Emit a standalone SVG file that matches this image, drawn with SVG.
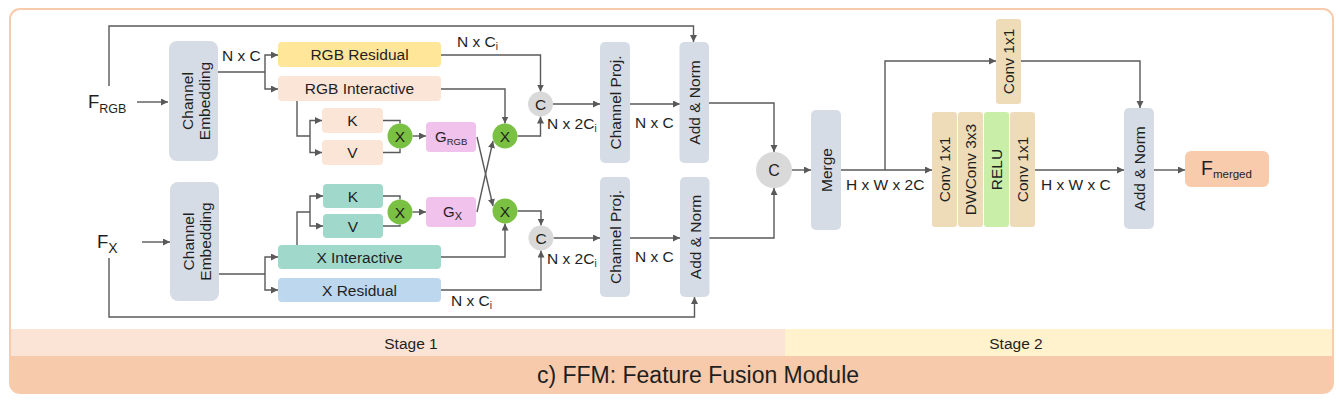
<svg xmlns="http://www.w3.org/2000/svg" width="1339" height="403" viewBox="0 0 1339 403">
<defs>
<marker id="ah" markerUnits="userSpaceOnUse" markerWidth="8" markerHeight="8" refX="7" refY="3.5" orient="auto">
<path d="M0,0 L7,3.5 L0,7 z" fill="#595959"/>
</marker>
<clipPath id="fc"><rect x="10" y="9" width="1323" height="384" rx="10"/></clipPath>
<style>
text{font-family:"Liberation Sans",Arial,sans-serif;fill:#1f1f1f;font-size:15.5px}
.m{text-anchor:middle}
.c{fill:none;stroke:#595959;stroke-width:1.4}
.a{marker-end:url(#ah)}
.gray{fill:#D6DCE5}
.peach{fill:#FBE5D6}
.teal{fill:#A0D9CB}
.tan{fill:#EEDCB9}
.pink{fill:#F0C2EC}
.gc{fill:#7AC143}
.cc{fill:#D9D9D9}
</style>
</defs>

<g id="frame">
<rect x="10" y="9" width="1323" height="384" rx="10" fill="#ffffff"/>
<g clip-path="url(#fc)">
<rect x="10" y="329" width="775" height="28" fill="#FBE4D5"/>
<rect x="785" y="329" width="548" height="28" fill="#FFF2CC"/>
<rect x="10" y="356" width="1323" height="37" fill="#F7CAAC"/>
</g>
<rect x="10" y="9" width="1323" height="384" rx="10" fill="none" stroke="#F8CBAD" stroke-width="2"/>
<text x="411" y="349" class="m">Stage 1</text>
<text x="1016" y="349" class="m">Stage 2</text>
<text x="698" y="383" class="m" style="font-size:23px">c) FFM: Feature Fusion Module</text>
</g>

<g id="connectors">
<path class="c a" d="M137,102 H168"/>
<path class="c a" d="M109,86 V26 H693.5 V42"/>
<path class="c" d="M218,72 H265"/>
<path class="c a" d="M265,72 V55 H278"/>
<path class="c a" d="M265,72 V89 H278"/>
<path class="c" d="M297,101 V136 H310"/>
<path class="c a" d="M310,136 V120.5 H322"/>
<path class="c a" d="M310,136 V152.5 H322"/>
<path class="c" d="M383,120.5 H400 V123.5"/>
<path class="c" d="M383,152.5 H400 V148.5"/>
<path class="c a" d="M412.5,136 H426"/>
<path class="c a" d="M477,137 L493,206"/>
<path class="c a" d="M477,212 L493,141"/>
<path class="c a" d="M441,89 H505 V123.5"/>
<path class="c a" d="M441,55 H540.5 V91.5"/>
<path class="c a" d="M517.5,136 H540.5 V116.5"/>
<path class="c a" d="M553,104 H600"/>
<path class="c a" d="M630,104 H680"/>
<path class="c a" d="M709,103 H774 V152"/>
<path class="c a" d="M792,170 H811"/>
<path class="c a" d="M841,170 H932"/>
<path class="c a" d="M885,170 V61 H996"/>
<path class="c a" d="M1021,61 H1140 V108"/>
<path class="c a" d="M1035,170 H1124"/>
<path class="c a" d="M1154,170 H1185"/>

<path class="c a" d="M142,242 H170"/>
<path class="c a" d="M109,258 V317 H694.5 V297"/>
<path class="c" d="M219,274 H265"/>
<path class="c a" d="M265,274 V257 H278"/>
<path class="c a" d="M265,274 V290 H278"/>
<path class="c" d="M297,245 V212 H310"/>
<path class="c a" d="M310,212 V196 H323"/>
<path class="c a" d="M310,212 V226 H323"/>
<path class="c" d="M383,196 H400 V199.5"/>
<path class="c" d="M383,226 H400 V224.5"/>
<path class="c a" d="M412.5,212 H426"/>
<path class="c a" d="M441,257 H505 V223.5"/>
<path class="c a" d="M517.5,211 H541 V225.5"/>
<path class="c a" d="M441,290 H541 V250.5"/>
<path class="c a" d="M553.5,238 H600"/>
<path class="c a" d="M630,238 H680"/>
<path class="c a" d="M709,238 H774 V188"/>

<text x="222" y="61">N x C</text>
<text x="457" y="47">N x C<tspan font-size="10" dy="3">i</tspan></text>
<text x="547" y="129">N x 2C<tspan font-size="10" dy="3">i</tspan></text>
<text x="635" y="128">N x C</text>
<text x="547" y="264">N x 2C<tspan font-size="10" dy="3">i</tspan></text>
<text x="635" y="262">N x C</text>
<text x="451" y="306">N x C<tspan font-size="10" dy="3">i</tspan></text>
<text x="846" y="190">H x W x 2C</text>
<text x="1041" y="190">H x W x C</text>
</g>

<g id="f_rgb"><text x="88" y="108" style="font-size:18.5px">F<tspan font-size="12.5" dy="5">RGB</tspan></text></g>
<g id="f_x"><text x="97" y="248" style="font-size:18.5px">F<tspan font-size="14" dy="5">X</tspan></text></g>

<g id="embed1"><rect x="169" y="41" width="49" height="120" rx="8" class="gray"/>
<text transform="translate(193.5,101) rotate(-90)" class="m"><tspan x="0" y="-1">Channel</tspan><tspan x="0" y="16">Embedding</tspan></text></g>
<g id="embed2"><rect x="170" y="182" width="49" height="119" rx="8" class="gray"/>
<text transform="translate(194.5,241.5) rotate(-90)" class="m"><tspan x="0" y="-1">Channel</tspan><tspan x="0" y="16">Embedding</tspan></text></g>

<g id="rgb_res"><rect x="278" y="42" width="163" height="25" rx="4" fill="#FFE699"/><text x="359.5" y="60" class="m">RGB Residual</text></g>
<g id="rgb_int"><rect x="278" y="76" width="163" height="25" rx="4" class="peach"/><text x="359.5" y="94" class="m">RGB Interactive</text></g>
<g id="k1"><rect x="322" y="108" width="61" height="25" rx="4" class="peach"/><text x="352.5" y="126" class="m">K</text></g>
<g id="v1"><rect x="322" y="140" width="61" height="25" rx="4" class="peach"/><text x="352.5" y="158" class="m">V</text></g>
<g id="x1"><circle cx="400" cy="136" r="12.5" class="gc"/><text x="400" y="141.5" class="m">X</text></g>
<g id="g_rgb"><rect x="426" y="122" width="50" height="30" rx="4" class="pink"/><text x="435" y="142" style="font-size:15px">G<tspan font-size="9.5" dy="3">RGB</tspan></text></g>
<g id="x2"><circle cx="505" cy="136" r="12.5" class="gc"/><text x="505" y="141.5" class="m">X</text></g>
<g id="c1"><circle cx="540.5" cy="104" r="12.5" class="cc"/><text x="540.5" y="109.5" class="m">C</text></g>
<g id="proj1"><rect x="600" y="42" width="30" height="121" rx="5" class="gray"/><text transform="translate(615,102.5) rotate(-90)" x="0" y="5.5" class="m">Channel Proj.</text></g>
<g id="addnorm1"><rect x="679.5" y="42" width="29.5" height="121" rx="5" class="gray"/><text transform="translate(694.5,102.5) rotate(-90)" x="0" y="5.5" class="m">Add &amp; Norm</text></g>

<g id="x_int"><rect x="278" y="245" width="163" height="24" rx="4" class="teal"/><text x="359.5" y="262.5" class="m">X Interactive</text></g>
<g id="x_res"><rect x="278" y="278" width="163" height="24" rx="4" fill="#BDD7EE"/><text x="359.5" y="295.5" class="m">X Residual</text></g>
<g id="k2"><rect x="323" y="184" width="60" height="24" rx="4" class="teal"/><text x="353" y="201.5" class="m">K</text></g>
<g id="v2"><rect x="323" y="214" width="60" height="24" rx="4" class="teal"/><text x="353" y="231.5" class="m">V</text></g>
<g id="x3"><circle cx="400" cy="212" r="12.5" class="gc"/><text x="400" y="217.5" class="m">X</text></g>
<g id="g_x"><rect x="426" y="197" width="50" height="30" rx="4" class="pink"/><text x="443" y="217" style="font-size:15px">G<tspan font-size="11" dy="3">X</tspan></text></g>
<g id="x4"><circle cx="505" cy="211" r="12.5" class="gc"/><text x="505" y="216.5" class="m">X</text></g>
<g id="c2"><circle cx="541" cy="238" r="12.5" class="cc"/><text x="541" y="243.5" class="m">C</text></g>
<g id="proj2"><rect x="600" y="177" width="30" height="120" rx="5" class="gray"/><text transform="translate(615,237) rotate(-90)" x="0" y="5.5" class="m">Channel Proj.</text></g>
<g id="addnorm1b"><rect x="680" y="177" width="29.5" height="120" rx="5" class="gray"/><text transform="translate(695,237) rotate(-90)" x="0" y="5.5" class="m">Add &amp; Norm</text></g>

<g id="c_big"><circle cx="774" cy="170" r="18" class="cc"/><text x="774" y="175.5" class="m" style="font-size:16px">C</text></g>
<g id="merge"><rect x="811" y="110" width="30" height="120" rx="5" class="gray"/><text transform="translate(826,170) rotate(-90)" x="0" y="5.5" class="m">Merge</text></g>
<g id="conv_top"><rect x="996" y="19" width="25" height="85" rx="3" class="tan"/><text transform="translate(1008.5,61.5) rotate(-90)" x="0" y="5.5" class="m">Conv 1x1</text></g>
<g id="conv_a"><rect x="932" y="112" width="25" height="115" rx="3" class="tan"/><text transform="translate(944.5,169.5) rotate(-90)" x="0" y="5.5" class="m">Conv 1x1</text></g>
<g id="dwconv"><rect x="958" y="112" width="25" height="115" rx="3" class="tan"/><text transform="translate(970.5,169.5) rotate(-90)" x="0" y="5.5" class="m">DWConv 3x3</text></g>
<g id="relu"><rect x="984" y="112" width="25" height="115" rx="3" fill="#C8EEA8"/><text transform="translate(996.5,169.5) rotate(-90)" x="0" y="5.5" class="m">RELU</text></g>
<g id="conv_b"><rect x="1010" y="112" width="25" height="115" rx="3" class="tan"/><text transform="translate(1022.5,169.5) rotate(-90)" x="0" y="5.5" class="m">Conv 1x1</text></g>
<g id="addnorm2"><rect x="1124" y="108" width="30" height="121" rx="5" class="gray"/><text transform="translate(1139,168.5) rotate(-90)" x="0" y="5.5" class="m">Add &amp; Norm</text></g>
<g id="f_merged"><rect x="1185" y="151" width="84" height="36" rx="6" fill="#F8CBAD"/><text x="1201" y="175" style="font-size:19.5px">F<tspan font-size="11.5" dy="3">merged</tspan></text></g>
</svg>
